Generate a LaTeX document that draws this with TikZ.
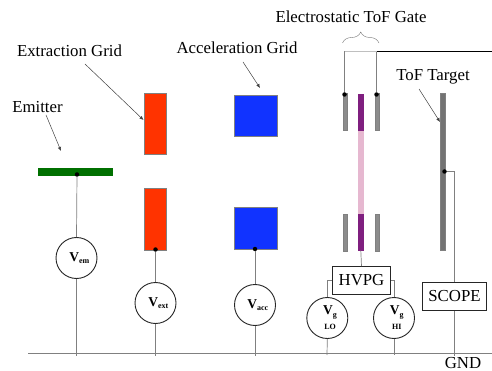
\documentclass[tikz,border=0pt]{standalone}
\usepackage{fontspec}
\setmainfont{Liberation Serif}
\usepackage{xcolor}
\usetikzlibrary{arrows.meta,positioning,calc,decorations.pathreplacing}
\definecolor{gridred}{HTML}{FF3300}
\definecolor{gridblue}{HTML}{1133FF}
\definecolor{emgreen}{HTML}{007000}
\definecolor{gatepurple}{HTML}{7F1F7F}
\definecolor{gatepink}{HTML}{E6B8D0}
\definecolor{plategray}{HTML}{8C8C8C}
\definecolor{wiregray}{HTML}{808080}
\newcommand{\vlabel}[1]{\hspace*{5.5pt}V\raisebox{-2.5pt}{\fontsize{8}{8}\selectfont #1}}

\begin{document}
\begin{tikzpicture}[x=1pt, y=-1pt,
    plate/.style={rectangle, draw=wiregray, line width=0.6pt, inner sep=0pt, anchor=north west},
    supply/.style={circle, draw=black!85, fill=white, line width=0.9pt, minimum size=41pt, inner sep=0pt, align=center, font=\fontsize{13.5}{13.5}\selectfont\bfseries},
    boxed/.style={rectangle, draw=black!85, fill=white, line width=1.2pt, inner sep=0pt, font=\fontsize{16.8}{16.8}\selectfont},
    caption/.style={font=\fontsize{16.8}{16.8}\selectfont, inner sep=0pt},
    wire/.style={draw=wiregray, line width=0.7pt},
    pointer/.style={draw=black!75, line width=0.5pt, -{Latex[length=4pt,width=3.5pt]}},
    contact/.style={circle, fill=black, minimum size=4.5pt, inner sep=0pt}
]
    \useasboundingbox (0,0) rectangle (492,371);

    % Captions
    \node[caption] (lem) at (37.5,107) {Emitter};
    \node[caption] (lex) at (69.5,51) {Extraction Grid};
    \node[caption] (lac) at (237,48) {Acceleration Grid};
    \node[caption] (lgt) at (351,17) {Electrostatic ToF Gate};
    \node[caption] (ltt) at (433,77) {ToF Target};
    \node[caption] (gnd) at (463,363) {GND};

    % Emitter and grids
    \node[plate, fill=emgreen, draw=emgreen, minimum width=74.5pt, minimum height=7pt] (em) at (37.5,168.5) {};
    \node[plate, fill=gridred, minimum width=22.5pt, minimum height=60.5pt] (exu) at (143.5,93.5) {};
    \node[plate, fill=gridred, minimum width=22.5pt, minimum height=61pt] (exl) at (143.5,188.5) {};
    \node[plate, fill=gridblue, minimum width=43pt, minimum height=41pt] (acu) at (234,95) {};
    \node[plate, fill=gridblue, minimum width=43pt, minimum height=41pt] (acl) at (234,207.5) {};

    % ToF gate
    \node[plate, fill=gatepink, draw=gatepink, minimum width=5pt, minimum height=84pt] (gpi) at (358,130) {};
    \node[plate, fill=gatepurple, draw=gatepurple, minimum width=5pt, minimum height=36pt] (gmu) at (358,94) {};
    \node[plate, fill=gatepurple, draw=gatepurple, minimum width=5pt, minimum height=36pt] (gml) at (358,214) {};
    \node[plate, fill=plategray, minimum width=4.5pt, minimum height=36.5pt] (glu) at (342.5,93.5) {};
    \node[plate, fill=plategray, minimum width=4.5pt, minimum height=36.5pt] (gll) at (342.5,214) {};
    \node[plate, fill=plategray, minimum width=4.5pt, minimum height=36.5pt] (gru) at (374.5,93.5) {};
    \node[plate, fill=plategray, minimum width=4.5pt, minimum height=36.5pt] (grl) at (374.5,214) {};
    \node[plate, fill=black!55, minimum width=5pt, minimum height=157pt] (tgt) at (440,93) {};

    % Supplies and boxes
    \node[supply] (vem) at (76.5,258) {\vlabel{em}};
    \node[supply] (vex) at (155.5,303) {\vlabel{ext}};
    \node[supply] (vac) at (255,305) {\vlabel{acc}};
    \node[supply] (vlo) at (327.3,318) {\vlabel{g}\\[1.5pt]\hspace*{5.5pt}{\fontsize{8}{8}\selectfont LO}};
    \node[supply] (vhi) at (394,318) {\vlabel{g}\\[1.5pt]\hspace*{5.5pt}{\fontsize{8}{8}\selectfont HI}};
    \node[boxed, minimum width=58.5pt, minimum height=27.5pt] (hvpg) at (361.5,280.5) {HVPG};
    \node[boxed, minimum width=64.5pt, minimum height=27.5pt] (scope) at (454.5,296.5) {SCOPE};

    % Contact points
    \node[contact] (cem) at (77,174.5) {};
    \node[contact] (cex) at (155.5,249.5) {};
    \node[contact] (cac) at (255,249) {};
    \node[contact] (cgl) at (344.5,94.5) {};
    \node[contact] (cgr) at (376.5,94.5) {};
    \node[contact] (ctt) at (444.5,171.5) {};

    % Ground rail and its stubs
    \coordinate (gl) at (28,353.5);
    \coordinate (gr) at (492,353.5);
    \coordinate (sem) at (76.5,356);
    \coordinate (sex) at (155.5,356);
    \coordinate (sac) at (255,356);
    \coordinate (slo) at (327,355);
    \coordinate (shi) at (394,355);
    \coordinate (ssc) at (454.5,356);
    \draw[wire] (gl) -- (gr);

    % Wiring
    \draw[wire] (cem) -- (vem.north);
    \draw[wire] (vem.south) -- (sem);
    \draw[wire] (cex) -- (vex.north);
    \draw[wire] (vex.south) -- (sex);
    \draw[wire] (cac) -- (vac.north);
    \draw[wire] (vac.south) -- (sac);
    \draw[wire] (vlo.south) -- (slo);
    \draw[wire] (vhi.south) -- (shi);
    \draw[wire] (gml.south) -- (hvpg.north);
    \draw[wire] (hvpg.west) -| (vlo.north);
    \draw[wire] (hvpg.east) -| (vhi.north);
    \draw[wire] (ctt) -| (scope.north);
    \draw[wire] (scope.south) -- (ssc);

    % Gate feed
    \coordinate (fl) at (344.5,51);
    \coordinate (fr) at (376.5,51);
    \coordinate (fe) at (492,51);
    \draw[wire] (cgl) -- (fl);
    \draw[wire] (cgr) -- (fr);
    \draw[draw=black!25, line width=0.8pt] (fl) -- (fr);
    \draw[black, line width=0.8pt] (fr) -- (fe);

    % Brace
    \coordinate (bl) at (342.5,43);
    \coordinate (br) at (379,43);
    \draw[draw=black!55, line width=0.4pt, decorate, decoration={brace, amplitude=11pt}] (bl) -- (br);

    % Pointers
    \coordinate (pem) at (61,151);
    \coordinate (pex) at (143.5,120);
    \coordinate (pac) at (260,88);
    \coordinate (ptt) at (440,122);
    \coordinate (qem) at (46,115);
    \coordinate (qex) at (85,64);
    \coordinate (qac) at (243,62);
    \coordinate (qtt) at (419,89);
    \draw[pointer] (qem) -- (pem);
    \draw[pointer] (qex) -- (pex);
    \draw[pointer] (qac) -- (pac);
    \draw[pointer] (qtt) -- (ptt);
\end{tikzpicture}
\end{document}
